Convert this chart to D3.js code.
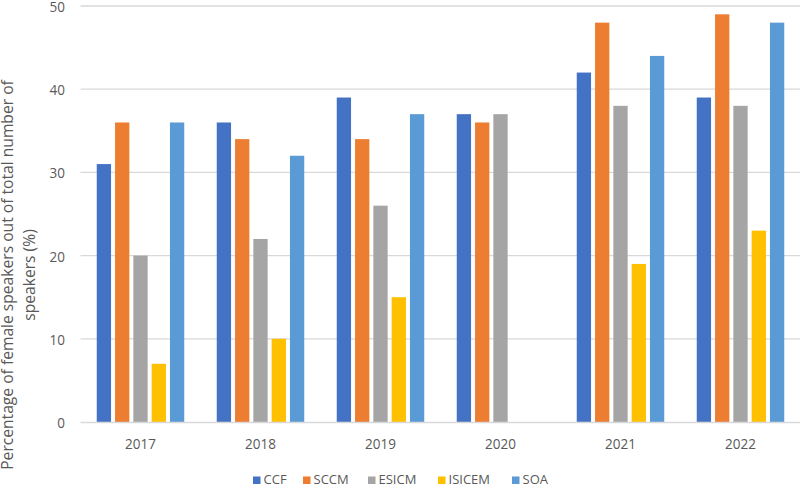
<!DOCTYPE html>
<html>
<head>
<meta charset="utf-8">
<script src="https://cdn.jsdelivr.net/npm/d3@7"></script>
<style>
  html, body { margin: 0; padding: 0; background: #fff; }
  svg { display: block; font-family: "Open Sans", "Liberation Sans", Arial, sans-serif; }
</style>
</head>
<body>
<svg id="chart" width="800" height="485"></svg>
<script>
const years = ["2017", "2018", "2019", "2020", "2021", "2022"];
const seriesNames = ["CCF", "SCCM", "ESICM", "ISICEM", "SOA"];
const CCF    = [31, 36, 39, 37, 42, 39];
const SCCM   = [36, 34, 34, 36, 48, 49];
const ESICM  = [20, 22, 26, 37, 38, 38];
const ISICEM = [7, 10, 15, null, 19, 23];
const SOA    = [36, 32, 37, null, 44, 48];
const yTicks = [0, 10, 20, 30, 40, 50];
const colors = ["#4472C4", "#ED7D31", "#A5A5A5", "#FFC000", "#5B9BD5"];
const yTitleLines = ["Percentage of female speakers out of total number of", "speakers (%)"];

const seriesValues = [CCF, SCCM, ESICM, ISICEM, SOA];

const svg = d3.select("#chart");
const plot = { left: 80.5, right: 800.5, top: 6, bottom: 422 };
const FONT = "'Open Sans', 'Liberation Sans', Arial, sans-serif";

const x0 = d3.scaleBand().domain(years).range([plot.left, plot.right]).padding(0);
const x1 = d3.scaleBand().domain(seriesNames)
  .range([x0.bandwidth() / 2 - 43.75, x0.bandwidth() / 2 + 43.75])
  .paddingInner(0.2186).paddingOuter(0);
const y = d3.scaleLinear().domain([0, 50]).range([plot.bottom, plot.top]);
const color = d3.scaleOrdinal().domain(seriesNames).range(colors);

// gridlines
svg.append("g")
  .selectAll("line")
  .data(yTicks.filter(t => t > 0))
  .join("line")
  .attr("x1", plot.left).attr("x2", plot.right)
  .attr("y1", d => y(d)).attr("y2", d => y(d))
  .attr("stroke", "#D9D9D9").attr("stroke-width", 1.3);

// y axis labels
const yAxis = d3.axisLeft(y).tickValues(yTicks).tickSize(0).tickPadding(0);
const yg = svg.append("g").attr("transform", `translate(65,0)`).call(yAxis);
yg.select(".domain").remove();
yg.selectAll("text").attr("font-size", 15).attr("fill", "#595959")
  .attr("font-family", FONT).attr("dy", "0.36em")
  .attr("transform", "scale(0.9,1)");

// bars
const rows = [];
years.forEach((yr, i) => {
  seriesNames.forEach((s, j) => {
    const v = seriesValues[j][i];
    if (v !== null && v !== undefined) rows.push({ year: yr, series: s, value: v });
  });
});

svg.append("g")
  .selectAll("rect")
  .data(rows)
  .join("rect")
  .attr("x", d => x0(d.year) + x1(d.series))
  .attr("width", x1.bandwidth())
  .attr("y", d => y(d.value))
  .attr("height", d => y(0) - y(d.value))
  .attr("fill", d => color(d.series));

// x axis
const xAxis = d3.axisBottom(x0).tickSize(0).tickPadding(0);
const xg = svg.append("g").attr("transform", `translate(0,${plot.bottom})`).call(xAxis);
xg.select(".domain").attr("stroke", "#D9D9D9").attr("stroke-width", 1.3)
  .attr("d", `M${plot.left},0.5H${plot.right}`);
xg.selectAll("text").attr("font-size", 15).attr("fill", "#595959")
  .attr("dy", null).attr("y", 27.3)
  .attr("font-family", FONT)
  .attr("transform", "scale(0.9,1)");

// y title (two lines, each centred on y = 275)
const titleG = svg.append("g");
const titleTexts = titleG.selectAll("text").data(yTitleLines).join("text")
  .attr("text-anchor", "start")
  .attr("font-size", 15)
  .attr("font-family", FONT)
  .attr("fill", "#595959")
  .text(d => d);
const firstLen = titleTexts.nodes()[0].getComputedTextLength();
const fs = firstLen > 0 ? 15 * 390 / firstLen : 15;
titleTexts.attr("font-size", fs);
titleTexts.each(function(d, i) {
  const len = this.getComputedTextLength();
  d3.select(this)
    .attr("x", -len / 2)
    .attr("y", 0)
    .attr("transform", `translate(${12.5 + i * 22},275) rotate(-90)`);
});

// legend
const legendX = [253, 303, 368, 438, 512];
const lg = svg.append("g");
const items = lg.selectAll("g").data(seriesNames).join("g")
  .attr("transform", (d, i) => `translate(${legendX[i]},475)`);
items.append("rect").attr("width", 7.5).attr("height", 7.5).attr("y", 1.5)
  .attr("fill", d => color(d));
items.append("text").attr("x", 10.5).attr("y", 9)
  .attr("font-size", 13).attr("font-family", FONT).attr("fill", "#595959")
  .text(d => d);
</script>
</body>
</html>
